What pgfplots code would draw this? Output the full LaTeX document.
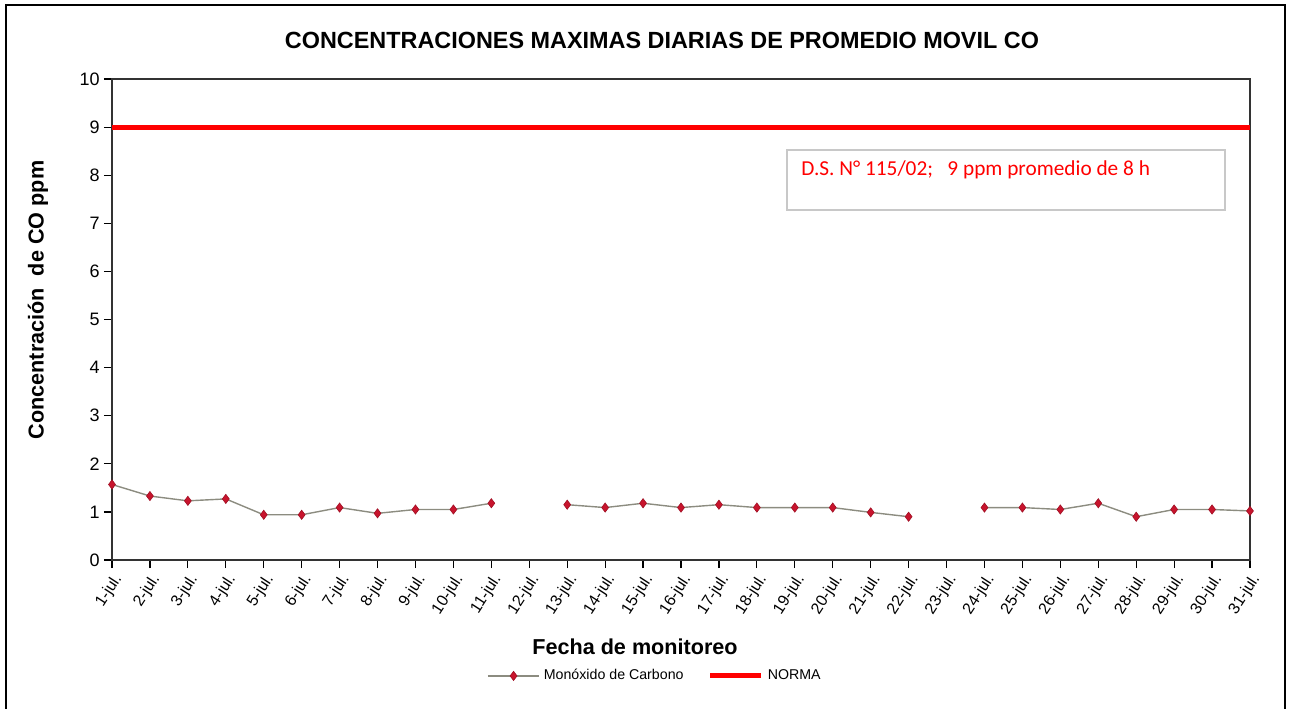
\documentclass[border=0pt]{standalone}
\usepackage{fontspec}
\setmainfont{Liberation Sans}
\newfontfamily\calibri{Carlito}
\usepackage{pgfplots}
\pgfplotsset{compat=1.18}
\definecolor{linegray}{RGB}{140,140,128}
\definecolor{markred}{RGB}{200,20,45}
\definecolor{boxgray}{RGB}{200,200,200}
\begin{document}
\begin{tikzpicture}
\useasboundingbox (0,0) rectangle (645.5pt,354pt);
\draw[line width=1.1pt,black] (3pt,-5pt) -- (3pt,351.5pt) -- (642.5pt,351.5pt) -- (642.5pt,-5pt);
\begin{axis}[
  at={(56pt,74pt)}, anchor=south west,
  scale only axis, width=569pt, height=240.5pt,
  xmin=1, xmax=31, ymin=0, ymax=10,
  xtick={1,...,31},
  xticklabels={1-jul.,2-jul.,3-jul.,4-jul.,5-jul.,6-jul.,7-jul.,8-jul.,9-jul.,10-jul.,11-jul.,12-jul.,13-jul.,14-jul.,15-jul.,16-jul.,17-jul.,18-jul.,19-jul.,20-jul.,21-jul.,22-jul.,23-jul.,24-jul.,25-jul.,26-jul.,27-jul.,28-jul.,29-jul.,30-jul.,31-jul.},
  ytick={0,1,...,10},
  xtick pos=lower, ytick pos=left,
  tick align=outside,
  major tick length=4pt,
  tick style={black, line width=0.6pt},
  axis line style={black!80, line width=0.7pt},
  /pgf/number format/assume math mode=true,
  yticklabel style={font=\fontsize{9}{10}\selectfont, inner sep=2pt},
  xticklabel style={font=\fontsize{8}{9}\selectfont, rotate=57, anchor=east, inner sep=1pt, xshift=-0.5pt, yshift=-5pt},
  unbounded coords=jump,
  legend columns=2,
  legend style={at={(0.478,-0.241)}, anchor=center, draw=none, fill=none,
    font=\fontsize{7.1}{8}\selectfont,
    /tikz/every even column/.append style={column sep=10pt}},
  legend image code/.code={\draw[mark repeat=2,mark phase=2,#1] plot coordinates {(0cm,0cm) (0.45cm,0cm) (0.9cm,0cm)};},
  clip=false,
]
\addplot[color=linegray, line width=0.7pt, mark=diamond*, mark size=2.3pt,
  mark options={fill=markred, draw=markred!80!black, line width=0.3pt}]
  coordinates {
  (1,1.57) (2,1.33) (3,1.23) (4,1.27) (5,0.94) (6,0.94) (7,1.09) (8,0.97)
  (9,1.05) (10,1.05) (11,1.18) (12,nan) (13,1.15) (14,1.09) (15,1.18) (16,1.09)
  (17,1.15) (18,1.09) (19,1.09) (20,1.09) (21,0.99) (22,0.90) (23,nan) (24,1.09)
  (25,1.09) (26,1.05) (27,1.18) (28,0.90) (29,1.05) (30,1.05) (31,1.02)
  };
\addlegendentry{Monóxido de Carbono}
\addplot[color=red, line width=2.5pt, mark=none] coordinates {(1,9) (31,9)};
\addlegendentry{NORMA}
\end{axis}
\node[font=\bfseries\fontsize{11.7}{13}\selectfont] at (331pt,334pt) {CONCENTRACIONES MAXIMAS DIARIAS DE PROMEDIO MOVIL CO};
\node[font=\bfseries\fontsize{10.8}{12}\selectfont, rotate=90] at (19pt,204pt) {Concentración\ \ de CO ppm};
\node[font=\bfseries\fontsize{10.8}{12}\selectfont] at (317.5pt,30.5pt) {Fecha de monitoreo};
\draw[boxgray, line width=0.7pt, fill=white] (393.5pt,279pt) rectangle (612.5pt,249pt);
\node[anchor=west, text=red, font=\calibri\fontsize{10.65}{12}\selectfont, inner sep=0pt] at (400.5pt,269pt) {D.S. N° 115/02;\ \ \ 9 ppm promedio de 8 h};
\end{tikzpicture}
\end{document}
